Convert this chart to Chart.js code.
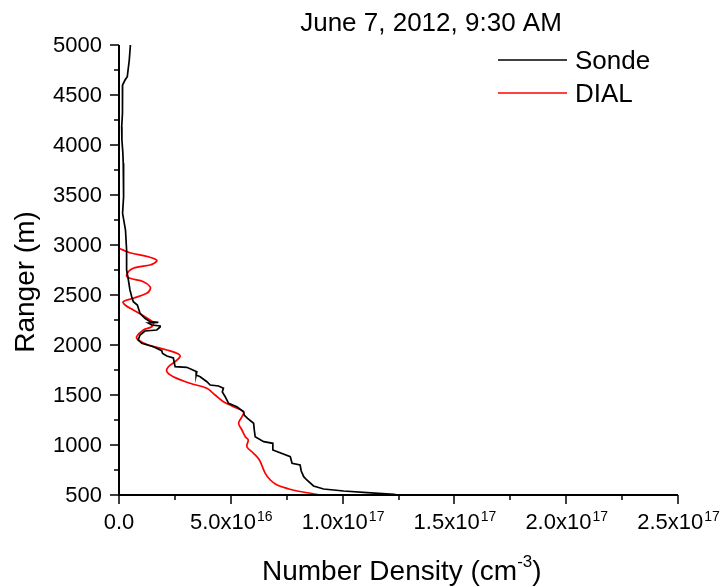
<!DOCTYPE html>
<html lang="en">
<head>
    <meta charset="UTF-8">
    <title>June 7, 2012, 9:30 AM - Number Density</title>
    <script src="https://cdn.jsdelivr.net/npm/chart.js"></script>
    <style>
        body { margin: 0; background: #fff; }
    </style>
</head>
<body>
    <canvas id="profileChart" width="724" height="587"></canvas>

    <script>
    // density in units of 1e16 cm^-3, range in m
    const sondeRange = [5000, 4850, 4683, 4650, 4600, 4450, 4317, 4180, 4050, 3930, 3817, 3650, 3480, 3317, 3150,
        2950, 2750, 2650, 2550, 2483, 2433, 2400, 2317, 2267, 2233, 2226, 2220, 2200, 2190, 2180, 2150, 2140,
        2100, 2050, 2017, 1983, 1943, 1915, 1890, 1870, 1783, 1777, 1733, 1700, 1683, 1633, 1600, 1590,
        1567, 1530, 1483, 1417, 1383, 1333, 1300, 1267, 1217, 1150, 1083, 1033, 1017, 950, 883, 817, 800,
        740, 683, 650, 590, 560, 540, 523, 507, 500];
    const sondeDensity = [0.51, 0.46, 0.37, 0.27, 0.16, 0.16, 0.15, 0.12, 0.13, 0.17, 0.19, 0.22, 0.19, 0.16, 0.29,
        0.34, 0.34, 0.42, 0.49, 0.57, 0.64, 0.82, 0.94, 1.16, 1.39, 1.76, 1.30, 1.46, 1.84, 1.84, 1.69, 1.16,
        0.94, 0.86, 1.02, 1.54, 1.91, 1.95, 2.14, 2.43, 2.51, 3.03, 3.48, 3.45, 3.63, 3.93, 4.08, 4.45,
        4.67, 4.62, 4.75, 4.90, 5.27, 5.57, 5.60, 5.75, 6.02, 6.05, 6.09, 6.47, 6.88, 6.88, 7.66, 7.74, 8.10,
        8.15, 8.26, 8.40, 8.70, 9.15, 10.05, 11.10, 12.30, 12.45];

    const dialRange = [2967, 2923, 2883, 2855, 2840, 2815, 2800, 2767, 2700, 2667, 2633, 2583, 2550, 2517, 2467,
        2433, 2400, 2350, 2283, 2250, 2223, 2183, 2150, 2083, 2050, 2000, 1950, 1910, 1883, 1833, 1783,
        1733, 1683, 1617, 1567, 1500, 1433, 1383, 1333, 1283, 1217, 1150, 1083, 1050, 983, 917, 850, 717,
        650, 600, 560, 540, 520, 500];
    const dialDensity = [0.0, 0.49, 1.31, 1.65, 1.69, 1.55, 1.39, 0.64, 0.34, 0.49, 1.09, 1.39, 1.38, 1.24, 0.64,
        0.19, 0.27, 0.64, 1.16, 1.39, 1.54, 1.46, 1.09, 0.79, 0.86, 1.31, 2.14, 2.66, 2.73, 2.51, 2.21,
        2.14, 2.43, 3.18, 3.93, 4.30, 4.67, 5.12, 5.57, 5.50, 5.35, 5.50, 5.65, 5.78, 5.72, 6.02, 6.28, 6.54,
        6.77, 7.07, 7.60, 7.96, 8.50, 9.00];

    const xTickValues = [0, 5, 10, 15, 20, 25];
    const xTickMantissa = ['0.0', '5.0x10', '1.0x10', '1.5x10', '2.0x10', '2.5x10'];
    const xTickExponent = ['', '16', '17', '17', '17', '17'];
    const yTickValues = [500, 1000, 1500, 2000, 2500, 3000, 3500, 4000, 4500, 5000];

    const titleText = 'June 7, 2012, 9:30 AM';
    const xTitle = 'Number Density (cm';
    const xTitleExp = '-3';
    const yTitle = 'Ranger (m)';
    const seriesNames = ['Sonde', 'DIAL'];
    const seriesColors = ['#000000', '#ff0000'];

    const FONT = '"Liberation Sans", Arial, sans-serif';

    function toPoints(xs, ys) {
        return xs.map((x, i) => ({ x: x, y: ys[i] }));
    }

    // axes, ticks, labels, title and legend
    const frame = {
        id: 'frame',
        afterDraw(chart) {
            const ctx = chart.ctx;
            const area = chart.chartArea;
            const xs = chart.scales.x;
            const ys = chart.scales.y;
            ctx.save();
            ctx.strokeStyle = '#000';
            ctx.fillStyle = '#000';

            // axis lines
            ctx.lineWidth = 2;
            ctx.beginPath();
            ctx.moveTo(area.left, area.top);
            ctx.lineTo(area.left, area.bottom + 1);
            ctx.moveTo(area.left - 1, area.bottom);
            ctx.lineTo(area.right, area.bottom);
            ctx.stroke();

            // x ticks (major + minor)
            ctx.lineWidth = 1.5;
            ctx.beginPath();
            for (let v = 0; v <= 25; v += 2.5) {
                const px = Math.round(xs.getPixelForValue(v));
                const len = (v % 5 === 0) ? 9 : 5;
                ctx.moveTo(px, area.bottom);
                ctx.lineTo(px, area.bottom + len);
            }
            // y ticks
            for (let v = 500; v <= 5000; v += 250) {
                const py = Math.round(ys.getPixelForValue(v));
                const len = (v % 500 === 0) ? 9 : 5;
                ctx.moveTo(area.left, py);
                ctx.lineTo(area.left - len, py);
            }
            ctx.stroke();

            // y tick labels
            ctx.font = '22px ' + FONT;
            ctx.textAlign = 'right';
            ctx.textBaseline = 'middle';
            yTickValues.forEach(v => {
                ctx.fillText(String(v), area.left - 17, ys.getPixelForValue(v) + 1);
            });

            // x tick labels with exponent
            ctx.textBaseline = 'alphabetic';
            ctx.textAlign = 'left';
            xTickValues.forEach((v, i) => {
                ctx.font = '22px ' + FONT;
                const w1 = ctx.measureText(xTickMantissa[i]).width;
                ctx.font = '14px ' + FONT;
                const w2 = xTickExponent[i] ? ctx.measureText(xTickExponent[i]).width : 0;
                const start = xs.getPixelForValue(v) - (w1 + w2) / 2;
                ctx.font = '22px ' + FONT;
                ctx.fillText(xTickMantissa[i], start, 529);
                if (xTickExponent[i]) {
                    ctx.font = '14px ' + FONT;
                    ctx.fillText(xTickExponent[i], start + w1 + 1, 521);
                }
            });

            // x axis title
            ctx.font = '28px ' + FONT;
            const tw1 = ctx.measureText(xTitle).width;
            ctx.font = '17px ' + FONT;
            const tw2 = ctx.measureText(xTitleExp).width;
            ctx.font = '28px ' + FONT;
            let tx = 262;
            ctx.fillText(xTitle, tx, 580);
            ctx.font = '17px ' + FONT;
            ctx.fillText(xTitleExp, tx + tw1, 567);
            ctx.font = '28px ' + FONT;
            ctx.fillText(')', tx + tw1 + tw2, 580);

            // y axis title
            ctx.save();
            ctx.translate(34, 282);
            ctx.rotate(-Math.PI / 2);
            ctx.textAlign = 'center';
            ctx.fillText(yTitle, 0, 0);
            ctx.restore();

            // title
            ctx.font = '26px ' + FONT;
            ctx.textAlign = 'center';
            ctx.fillText(titleText, 431, 31);

            // legend
            ctx.textAlign = 'left';
            ctx.font = '26px ' + FONT;
            const legendY = [60, 93];
            seriesNames.forEach((name, i) => {
                ctx.strokeStyle = seriesColors[i];
                ctx.lineWidth = 1.5;
                ctx.beginPath();
                ctx.moveTo(498, legendY[i]);
                ctx.lineTo(567, legendY[i]);
                ctx.stroke();
                ctx.fillText(name, 575, legendY[i] + 9);
            });
            ctx.restore();
        }
    };

    new Chart(document.getElementById('profileChart'), {
        type: 'scatter',
        data: {
            datasets: [
                {
                    label: seriesNames[0],
                    data: toPoints(sondeDensity, sondeRange),
                    showLine: true,
                    borderColor: seriesColors[0],
                    borderWidth: 1.7,
                    pointRadius: 0,
                    tension: 0
                },
                {
                    label: seriesNames[1],
                    data: toPoints(dialDensity, dialRange),
                    showLine: true,
                    borderColor: seriesColors[1],
                    borderWidth: 1.7,
                    pointRadius: 0,
                    tension: 0.35
                }
            ]
        },
        options: {
            responsive: false,
            animation: false,
            layout: { padding: { left: 119, right: 46, top: 45, bottom: 92 } },
            plugins: {
                legend: { display: false },
                title: { display: false },
                tooltip: { enabled: false }
            },
            scales: {
                x: { type: 'linear', min: 0, max: 25, display: false },
                y: { type: 'linear', min: 500, max: 5000, display: false }
            }
        },
        plugins: [frame]
    });
    </script>
</body>
</html>
